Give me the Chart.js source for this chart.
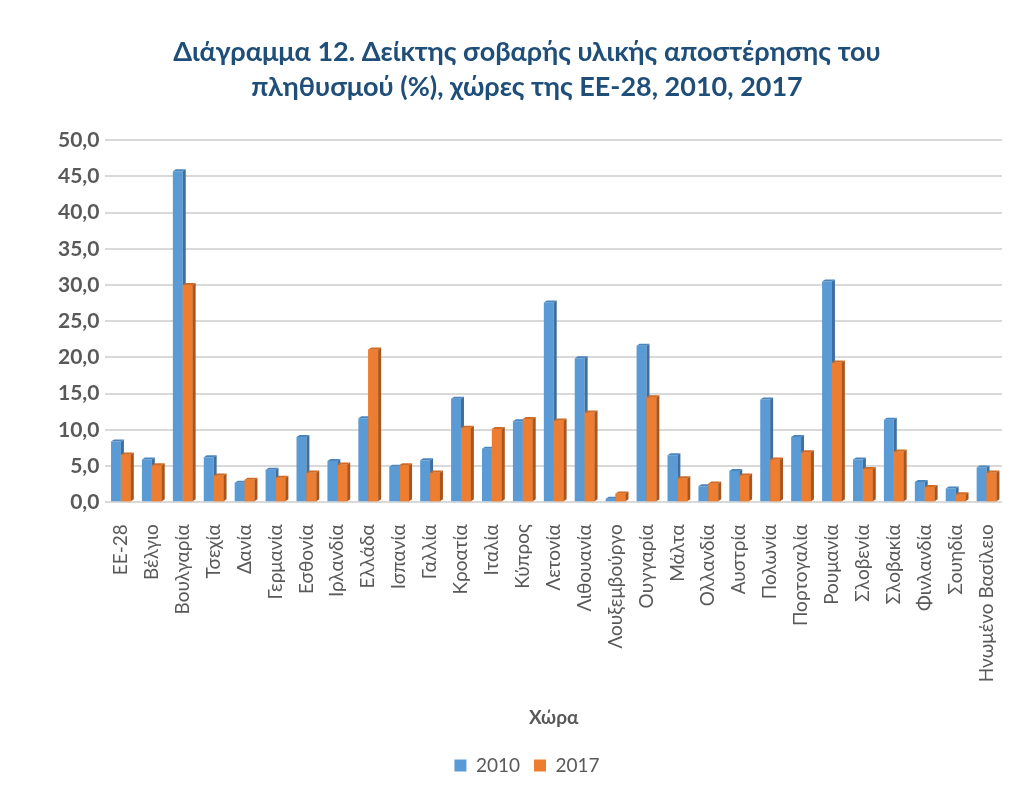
<!DOCTYPE html>
<html>
<head>
<meta charset="utf-8">
<script src="https://cdn.jsdelivr.net/npm/chart.js@4.4.1/dist/chart.umd.min.js"></script>
<style>
  html, body { margin: 0; padding: 0; background: #fff; }
  #wrap { width: 1034px; height: 795px; position: relative; }
</style>
</head>
<body>
<div id="wrap"><canvas id="chart"></canvas></div>
<script>
// Chart data
const countries = ['ΕΕ-28', 'Βέλγιο', 'Βουλγαρία', 'Τσεχία', 'Δανία', 'Γερμανία', 'Εσθονία',
    'Ιρλανδία', 'Ελλάδα', 'Ισπανία', 'Γαλλία', 'Κροατία', 'Ιταλία', 'Κύπρος', 'Λετονία',
    'Λιθουανία', 'Λουξεμβούργο', 'Ουγγαρία', 'Μάλτα', 'Ολλανδία', 'Αυστρία', 'Πολωνία',
    'Πορτογαλία', 'Ρουμανία', 'Σλοβενία', 'Σλοβακία', 'Φινλανδία', 'Σουηδία', 'Ηνωμένο Βασίλειο'];
const values2010 = [8.4, 5.9, 45.7, 6.2, 2.7, 4.5, 9.0, 5.7, 11.6, 4.9, 5.8, 14.3, 7.4, 11.2, 27.6,
    19.9, 0.5, 21.6, 6.5, 2.2, 4.3, 14.2, 9.0, 30.5, 5.9, 11.4, 2.8, 1.9, 4.8];
const values2017 = [6.6, 5.1, 30.0, 3.7, 3.1, 3.4, 4.1, 5.2, 21.1, 5.1, 4.1, 10.3, 10.1, 11.5, 11.3,
    12.4, 1.2, 14.5, 3.3, 2.6, 3.7, 5.9, 6.9, 19.3, 4.6, 7.0, 2.1, 1.1, 4.1];
const seriesLabels = ['2010', '2017'];
const yTicksMax = 50;
const yTicksStep = 5;

const FONT = 'Lato, "Open Sans", sans-serif';
const GRAY = '#595959';

// draw the dark side and top faces of one bar (3D look of the original)
function drawFaces(ctx, bar, ds) {
    const d = 3, dy = 2;
    const { x, y, base, width } = bar.getProps(['x', 'y', 'base', 'width'], true);
    const l = x - width / 2, r = x + width / 2;
    ctx.fillStyle = ds.sideColor;
    ctx.beginPath();
    ctx.moveTo(r, y);
    ctx.lineTo(r + d, y - dy);
    ctx.lineTo(r + d, base - dy);
    ctx.lineTo(r, base);
    ctx.closePath();
    ctx.fill();
    ctx.fillStyle = ds.topColor;
    ctx.beginPath();
    ctx.moveTo(l, y);
    ctx.lineTo(l + d, y - dy);
    ctx.lineTo(r + d, y - dy);
    ctx.lineTo(r, y);
    ctx.closePath();
    ctx.fill();
}

const bar3d = {
    id: 'bar3d',
    afterDatasetsDraw(chart) {
        const ctx = chart.ctx;
        const ds0 = chart.data.datasets[0], ds1 = chart.data.datasets[1];
        ctx.save();
        chart.getDatasetMeta(0).data.forEach(bar => drawFaces(ctx, bar, ds0));
        // redraw the 2017 bars on top so they hide the 2010 side faces
        chart.getDatasetMeta(1).data.forEach(bar => {
            bar.draw(ctx);
            drawFaces(ctx, bar, ds1);
        });
        ctx.restore();
    }
};

new Chart(document.getElementById('chart'), {
    type: 'bar',
    data: {
        labels: countries,
        datasets: [
            {
                label: seriesLabels[0],
                data: values2010,
                backgroundColor: '#5B9BD5',
                sideColor: '#3E6F9E',
                topColor: '#4A86BE'
            },
            {
                label: seriesLabels[1],
                data: values2017,
                backgroundColor: '#ED7D31',
                sideColor: '#A9561E',
                topColor: '#D06A25'
            }
        ]
    },
    options: {
        responsive: true,
        maintainAspectRatio: false,
        animation: false,
        layout: {
            padding: { left: 52, right: 32, top: 10, bottom: 10 }
        },
        datasets: {
            bar: {
                categoryPercentage: 0.64,
                barPercentage: 1.0
            }
        },
        plugins: {
            title: {
                display: true,
                text: ['Διάγραμμα 12. Δείκτης σοβαρής υλικής αποστέρησης του',
                       'πληθυσμού (%), χώρες της ΕΕ-28, 2010, 2017'],
                color: '#1F4E79',
                font: { family: FONT, size: 27, weight: 'bold', lineHeight: 1.3 },
                padding: { top: 25, bottom: 35 }
            },
            legend: {
                position: 'bottom',
                labels: {
                    color: GRAY,
                    font: { family: FONT, size: 19 },
                    boxWidth: 12,
                    boxHeight: 12,
                    padding: 14
                }
            },
            tooltip: { enabled: false }
        },
        scales: {
            x: {
                grid: { display: false },
                border: { display: false },
                ticks: {
                    color: GRAY,
                    font: { family: FONT, size: 19 },
                    minRotation: 90,
                    maxRotation: 90,
                    autoSkip: false,
                    padding: 14
                },
                title: {
                    display: true,
                    text: 'Χώρα',
                    color: GRAY,
                    font: { family: FONT, size: 19, weight: 'bold' },
                    padding: { top: 10, bottom: 13 }
                }
            },
            y: {
                min: 0,
                max: yTicksMax,
                border: { display: false },
                grid: { color: '#D9D9D9', lineWidth: 2, drawTicks: false },
                ticks: {
                    stepSize: yTicksStep,
                    color: GRAY,
                    padding: 6,
                    font: { family: FONT, size: 21, weight: 'bold' },
                    callback: v => v.toFixed(1).replace('.', ',')
                }
            }
        }
    },
    plugins: [bar3d]
});
</script>
</body>
</html>
